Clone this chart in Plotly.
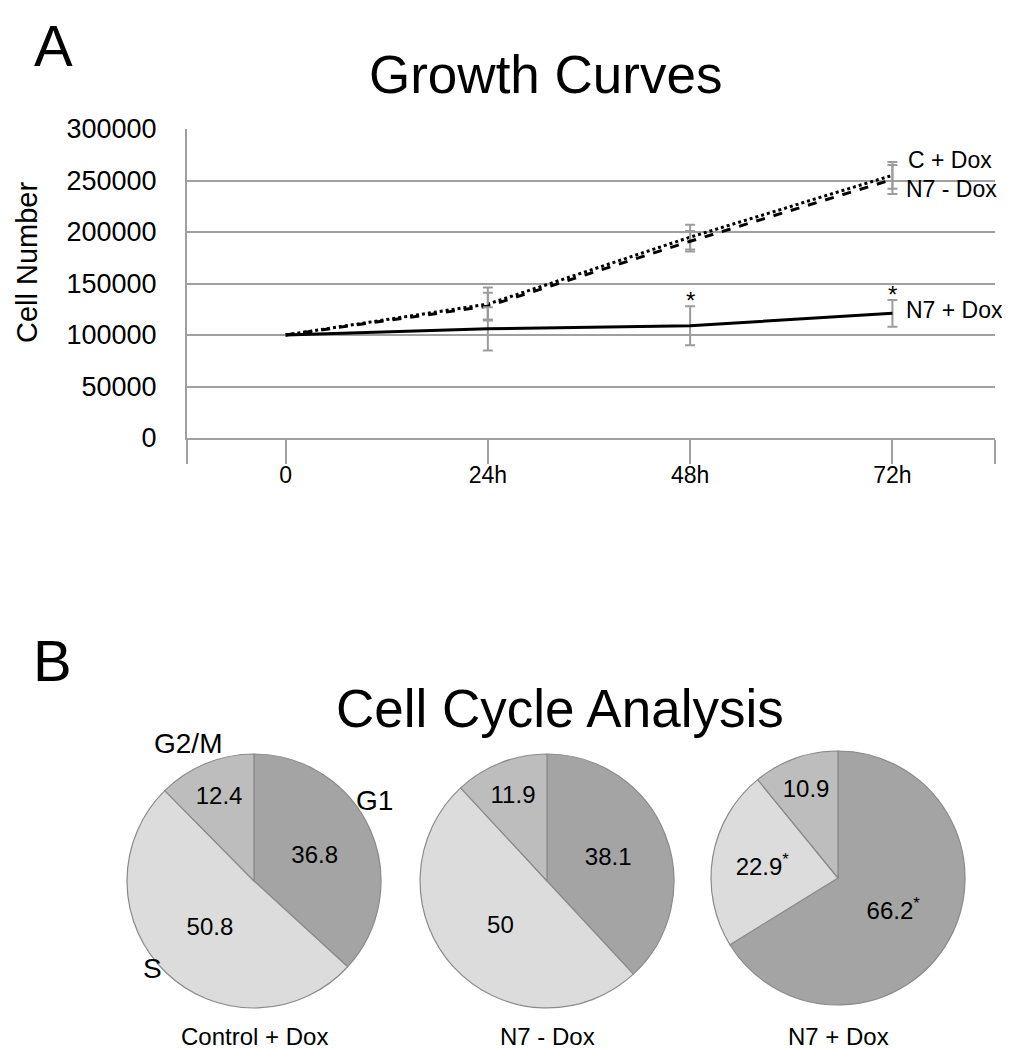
import plotly.graph_objects as go

# ---------------- data ----------------
timepoints = ["0", "24h", "48h", "72h"]
c_dox = [100000, 130000, 195000, 255000]
c_dox_err = [0, 16000, 12000, 13000]
n7_minus_dox = [100000, 128000, 191000, 251000]
n7_minus_dox_err = [0, 13000, 10000, 14000]
n7_plus_dox = [100000, 106000, 109000, 121000]
n7_plus_dox_err = [0, 21000, 19000, 13000]
n7_plus_sig = ["", "", "*", "*"]

y_ticks = [0, 50000, 100000, 150000, 200000, 250000, 300000]

phases = ["G1", "S", "G2/M"]
pie_groups = ["Control + Dox", "N7 - Dox", "N7 + Dox"]
control_dox_pct = [36.8, 50.8, 12.4]
n7_minus_pct = [38.1, 50, 11.9]
n7_plus_pct = [66.2, 22.9, 10.9]
n7_plus_pct_sig = ["*", "*", ""]

FONT = "Liberation Sans, Arial, sans-serif"
W, H = 1010, 1050
OFF = 8  # page body margin


def px(x):
    return (x - OFF) / W


def py(y):
    return 1 - (y - OFF) / H


def txt(text, x, y, size, **kw):
    fig.add_annotation(x=px(x), y=py(y), xref="paper", yref="paper", text=text,
                       showarrow=False, xanchor=kw.pop("xanchor", "center"),
                       yanchor=kw.pop("yanchor", "middle"),
                       font=dict(family=FONT, size=size, color="black"), **kw)


xs = list(range(len(timepoints)))
fig = go.Figure()

grey_err = "#9c9c9c"
fig.add_trace(go.Scatter(
    x=xs, y=c_dox, mode="lines", name="C + Dox",
    line=dict(color="black", width=3, dash="dot"),
    error_y=dict(type="data", array=c_dox_err, color=grey_err, thickness=2, width=5),
    showlegend=False))
fig.add_trace(go.Scatter(
    x=xs, y=n7_minus_dox, mode="lines", name="N7 - Dox",
    line=dict(color="black", width=3, dash="dash"),
    error_y=dict(type="data", array=n7_minus_dox_err, color=grey_err, thickness=2, width=5),
    showlegend=False))
fig.add_trace(go.Scatter(
    x=xs, y=n7_plus_dox, mode="lines", name="N7 + Dox",
    line=dict(color="black", width=3),
    error_y=dict(type="data", array=n7_plus_dox_err, color=grey_err, thickness=2, width=5),
    showlegend=False))

# significance asterisks
for xi, v, e, s in zip(xs, n7_plus_dox, n7_plus_dox_err, n7_plus_sig):
    if s:
        fig.add_annotation(x=xi, y=v + e, text=s, showarrow=False, xref="x", yref="y",
                           xanchor="center", yanchor="bottom", yshift=-10,
                           font=dict(family=FONT, size=24, color="black"))

# series labels at the last point
last = len(xs) - 1
fig.add_annotation(x=xs[last], y=c_dox[last], text="C + Dox", showarrow=False,
                   xanchor="left", yanchor="middle", xshift=14, yshift=15,
                   font=dict(family=FONT, size=23, color="black"))
fig.add_annotation(x=xs[last], y=n7_minus_dox[last], text="N7 - Dox", showarrow=False,
                   xanchor="left", yanchor="middle", xshift=12, yshift=-10,
                   font=dict(family=FONT, size=23, color="black"))
fig.add_annotation(x=xs[last], y=n7_plus_dox[last], text="N7 + Dox", showarrow=False,
                   xanchor="left", yanchor="middle", xshift=12, yshift=3,
                   font=dict(family=FONT, size=23, color="black"))

xr = [-0.487, 3.507]
fig.update_layout(
    xaxis=dict(domain=[px(187), px(995)], range=xr,
               tickvals=[xr[0] + 0.001] + xs + [xr[1] - 0.001],
               ticktext=[""] + timepoints + [""],
               ticks="outside", ticklen=24, tickwidth=2, tickcolor="#a0a0a0",
               ticklabelstandoff=-9,
               showline=True, linecolor="#a0a0a0", linewidth=2,
               showgrid=False, zeroline=False, automargin=False,
               tickfont=dict(family=FONT, size=23, color="black"), anchor="y"),
    yaxis=dict(domain=[py(438), py(129)], range=[0, 300000],
               tickvals=y_ticks, tickformat="d",
               ticks="outside", ticklen=23, tickcolor="rgba(0,0,0,0)",
               showline=True, linecolor="#a0a0a0", linewidth=2,
               showgrid=True, gridcolor="#a0a0a0", gridwidth=2, zeroline=False,
               automargin=False,
               tickfont=dict(family=FONT, size=27, color="black"), anchor="x"),
)

# ---------------- pies ----------------
pie_centers = [(254, 881), (547, 881), (838, 878)]
radius = 127
pie_colors = ["#a4a4a4", "#dcdcdc", "#bdbdbd"]
pie_data = [control_dox_pct, n7_minus_pct, n7_plus_pct]
pie_sigs = [["", "", ""], ["", "", ""], n7_plus_pct_sig]

for (cx, cy), vals, sigs, grp in zip(pie_centers, pie_data, pie_sigs, pie_groups):
    texts = [f"{v:g}" + (f"<sup>{s}</sup>" if s else "") for v, s in zip(vals, sigs)]
    fig.add_trace(go.Pie(
        labels=phases, values=vals, text=texts, textinfo="text",
        sort=False, direction="clockwise", rotation=0,
        marker=dict(colors=pie_colors, line=dict(color="#8a8a8a", width=1.2)),
        textposition="inside", insidetextorientation="horizontal",
        textfont=dict(family=FONT, size=24, color="black"),
        domain=dict(x=[px(cx - radius), px(cx + radius)], y=[py(cy + radius), py(cy - radius)]),
        showlegend=False, name=grp, hoverinfo="label+value"))
    txt(grp, cx, 1036, 24)

# phase labels beside first pie
for lab, (lx, ly) in zip(phases, [(374, 800), (152, 968), (188, 743)]):
    txt(lab, lx, ly, 28)

# titles and panel letters
txt("Growth Curves", 545, 75, 53)
txt("Cell Cycle Analysis", 560, 708, 53)
txt("A", 53, 45, 58)
txt("B", 52, 660, 58)
txt("Cell Number", 27, 262, 29, textangle=-90)

fig.update_layout(width=W, height=H, autosize=False,
                  margin=dict(l=0, r=0, t=0, b=0, autoexpand=False),
                  paper_bgcolor="white", plot_bgcolor="white",
                  font=dict(family=FONT, color="black"))

fig.write_html("out.html")
